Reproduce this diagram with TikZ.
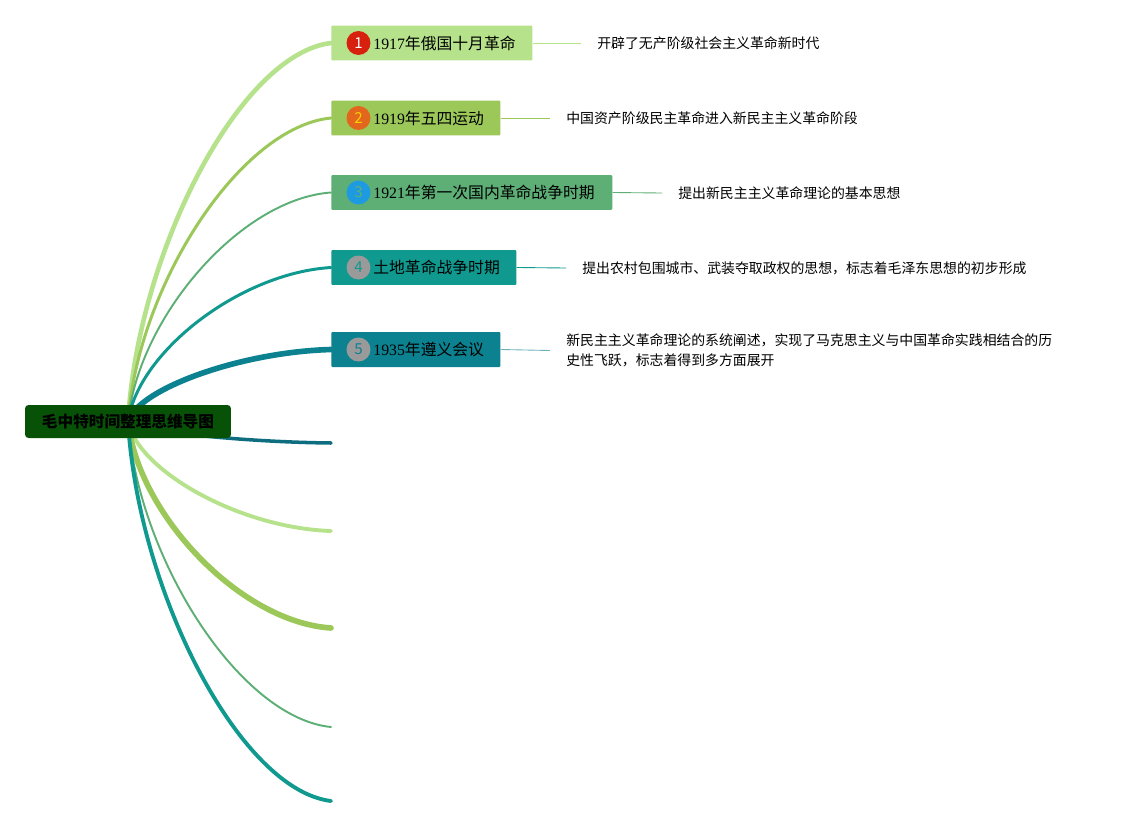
\documentclass[tikz,border=0pt]{standalone}
\usepackage{fontspec}
\setmainfont{Noto Sans CJK SC}
\newfontfamily\numfont{Liberation Serif}
\usetikzlibrary{backgrounds}

\definecolor{rootgreen}{HTML}{075207}
\definecolor{leafgreen}{HTML}{B5E28A}
\definecolor{olivegreen}{HTML}{9CC85A}
\definecolor{seagreen}{HTML}{5DAF76}
\definecolor{teal}{HTML}{10998F}
\definecolor{deepteal}{HTML}{0C8190}
\definecolor{darkteal}{HTML}{0E6E80}
\definecolor{badgered}{HTML}{D8200E}
\definecolor{badgeorange}{HTML}{E2661C}
\definecolor{badgeblue}{HTML}{1E9BE0}
\definecolor{badgegray}{HTML}{9A9A9A}

\tikzset{
	rootbox/.style={rectangle, rounded corners=2pt, fill=rootgreen, minimum width=4.12cm, minimum height=0.66cm, inner sep=0pt, font=\fontsize{8.9}{10}\selectfont\bfseries},
	topic/.style={rectangle, rounded corners=0.6pt, minimum height=0.7cm, anchor=west, inner sep=0pt},
	badge/.style={circle, minimum size=0.48cm, inner sep=0pt, font=\fontsize{8.6}{10}\selectfont},
	topictext/.style={anchor=west, inner sep=0pt, font=\fontsize{9}{11}\selectfont},
	note/.style={anchor=west, inner xsep=0.32cm, inner ysep=0pt, align=left, font=\fontsize{7.9}{11.3}\selectfont},
	link/.style={line width=0.5pt},
	branch/.style={line cap=round},
}

\begin{document}
\begin{tikzpicture}[x=0.02cm, y=-0.02cm]
			%%%%% START %%%%%
			\useasboundingbox (0, 0) rectangle (1125, 828);
			
			\node[rootbox] (root) at (128, 421.5) {毛中特时间整理思维导图};
			
			\node[topic, fill=leafgreen, minimum width=4.02cm] (t1) at (331, 43) {};
			\node[badge, fill=badgered, text=white] (b1) at ([xshift=0.55cm]t1.west) {1};
			\node[topictext] (l1) at ([xshift=0.84cm]t1.west) {{\numfont 1917}年俄国十月革命};
			
			\node[topic, fill=olivegreen, minimum width=3.38cm] (t2) at (331, 118) {};
			\node[badge, fill=badgeorange, text=yellow!70!orange] (b2) at ([xshift=0.55cm]t2.west) {2};
			\node[topictext] (l2) at ([xshift=0.84cm]t2.west) {{\numfont 1919}年五四运动};
			
			\node[topic, fill=seagreen, minimum width=5.62cm] (t3) at (331, 192.5) {};
			\node[badge, fill=badgeblue, text=seagreen] (b3) at ([xshift=0.55cm]t3.west) {3};
			\node[topictext] (l3) at ([xshift=0.84cm]t3.west) {{\numfont 1921}年第一次国内革命战争时期};
			
			\node[topic, fill=teal, minimum width=3.7cm] (t4) at (331, 267.5) {};
			\node[badge, fill=badgegray, text=teal] (b4) at ([xshift=0.55cm]t4.west) {4};
			\node[topictext] (l4) at ([xshift=0.84cm]t4.west) {土地革命战争时期};
			
			\node[topic, fill=deepteal, minimum width=3.38cm] (t5) at (331, 349.5) {};
			\node[badge, fill=badgegray, text=deepteal] (b5) at ([xshift=0.55cm]t5.west) {5};
			\node[topictext] (l5) at ([xshift=0.84cm]t5.west) {{\numfont 1935}年遵义会议};
			
			\node[note] (d1) at (581, 43) {开辟了无产阶级社会主义革命新时代};
			\node[note] (d2) at (550, 118) {中国资产阶级民主革命进入新民主主义革命阶段};
			\node[note] (d3) at (662, 193) {提出新民主主义革命理论的基本思想};
			\node[note] (d4) at (566, 268) {提出农村包围城市、武装夺取政权的思想，标志着毛泽东思想的初步形成};
			\node[note] (d5) at (550, 350.5) {新民主主义革命理论的系统阐述，实现了马克思主义与中国革命实践相结合的历\\史性飞跃，标志着得到多方面展开};
			
			\draw[link, color=leafgreen] (t1.east) -- (d1.west);
			\draw[link, color=olivegreen] (t2.east) -- (d2.west);
			\draw[link, color=seagreen] (t3.east) -- (d3.west);
			\draw[link, color=teal] (t4.east) -- (d4.west);
			\draw[link, color=deepteal!60] (t5.east) -- (d5.west);
			
			\coordinate (e1) at (331, 443);
			\coordinate (e2) at (331, 531);
			\coordinate (e3) at (331, 628);
			\coordinate (e4) at (331, 727);
			\coordinate (e5) at (331, 801);
			
			\begin{scope}[on background layer]
				\fill[white] (0, 0) rectangle (1125, 828);
				
				\draw[branch, line width=2.6pt, color=leafgreen] (root.center) .. controls (138, 251) and (240, 54) .. (t1.west);
				\draw[branch, line width=1.7pt, color=olivegreen] (root.center) .. controls (138, 285) and (240, 127) .. (t2.west);
				\draw[branch, line width=1.1pt, color=seagreen] (root.center) .. controls (138, 318) and (240, 199) .. (t3.west);
				\draw[branch, line width=1.7pt, color=teal] (root.center) .. controls (138, 352) and (240, 273) .. (t4.west);
				\draw[branch, line width=3.2pt, color=deepteal] (root.center) .. controls (138, 389) and (240, 352) .. (t5.west);
				
				\draw[branch, line width=2pt, color=darkteal] (root.center) .. controls (138, 431) and (240, 442) .. (e1);
				\draw[branch, line width=2.2pt, color=leafgreen] (root.center) .. controls (138, 471) and (240, 528) .. (e2);
				\draw[branch, line width=3.2pt, color=olivegreen] (root.center) .. controls (138, 514) and (240, 622) .. (e3);
				\draw[branch, line width=1.1pt, color=seagreen] (root.center) .. controls (138, 559) and (240, 718) .. (e4);
				\draw[branch, line width=2.2pt, color=teal] (root.center) .. controls (138, 592) and (240, 790) .. (e5);
			\end{scope}
			
			%%%%% END %%%%%
\end{tikzpicture}
\end{document}
